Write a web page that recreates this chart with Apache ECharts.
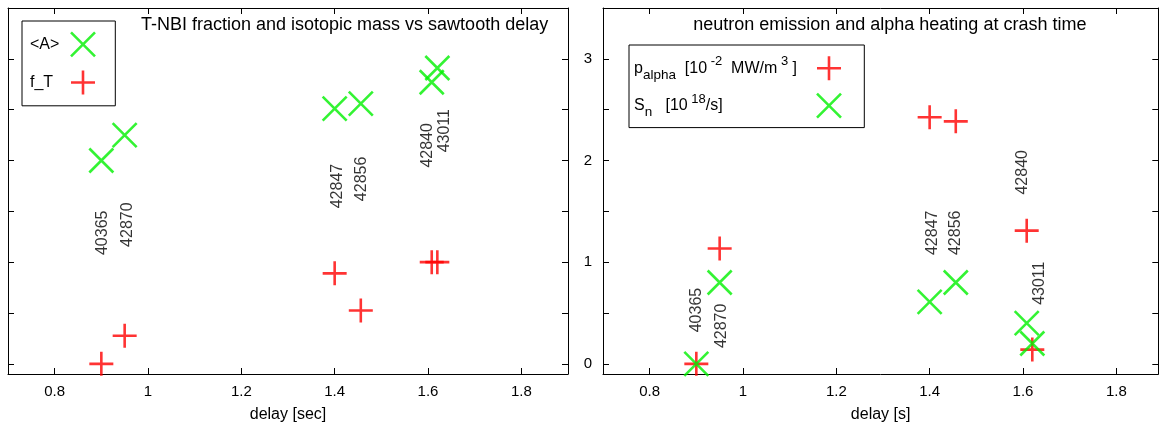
<!DOCTYPE html>
<html><head><meta charset="utf-8">
<script src="https://cdn.jsdelivr.net/npm/echarts@6/dist/echarts.min.js"></script>
<style>html,body{margin:0;padding:0;background:#fff}#c{width:1160px;height:428px}</style>
</head><body><div id="c"></div>
<script>
// ---- data ----
const shots = ['40365', '42870', '42847', '42856', '42840', '43011'];
const delay = [0.9, 0.95, 1.4, 1.456, 1.608, 1.62];
const massA = [2.0, 2.25, 2.51, 2.56, 2.77, 2.91];
const fracT = [0.0, 0.276, 0.89, 0.525, 1.0, 1.0];
const pAlpha = [0.0, 1.135, 2.425, 2.385, 1.31, 0.14];
const sNeutron = [0.0, 0.80, 0.61, 0.80, 0.40, 0.20];
// shot-number labels: data coordinates of the start (bottom) of each rotated label
const leftLabelX = [0.902, 0.957, 1.406, 1.457, 1.600, 1.636];
const leftLabelY = [1.07, 1.15, 1.53, 1.60, 1.93, 2.08];
const rightLabelX = [0.901, 0.955, 1.407, 1.455, 1.599, 1.635];
const rightLabelY = [0.31, 0.155, 1.07, 1.07, 1.665, 0.58];
const xTicks = [0.8, 1, 1.2, 1.4, 1.6, 1.8];
const yTicks = [0, 0.5, 1, 1.5, 2, 2.5, 3];
const yLabels = [0, 1, 2, 3];
const titleLeft = 'T-NBI fraction and isotopic mass vs sawtooth delay';
const titleRight = 'neutron emission and alpha heating at crash time';
const xNameLeft = 'delay [sec]';
const xNameRight = 'delay [s]';

// ---- styling ----
const FONT = 'Liberation Sans, Arial, sans-serif';
const RED = '#ff0000';
const GREEN = '#00f000';
const X_PATH = 'path://M0,0L10,10M10,0L0,10';
const PLUS_PATH = 'path://M5,0L5,10M0,5L10,5';

const chart = echarts.init(document.getElementById('c'), null, {renderer: 'canvas'});

function pairs(xs, ys) { return xs.map((x, i) => [x, ys[i]]); }
function labelData(xs, ys) { return xs.map((x, i) => ({name: shots[i], value: [x, ys[i]]})); }

const tickCommon = {show: true, inside: true, length: 6, lineStyle: {color: '#000', width: 1}};
function xAxisDef(grid, pos, max, showLabels, name) {
  return {
    type: 'value', gridIndex: grid, position: pos, min: 0.7, max: max,
    axisLine: {show: true, onZero: false, lineStyle: {color: '#000', width: 1}},
    axisTick: Object.assign({}, tickCommon, {customValues: xTicks}),
    axisLabel: {show: showLabels, customValues: xTicks, color: '#000', fontSize: 15, fontFamily: FONT, margin: 10},
    splitLine: {show: false},
    name: name || '', nameLocation: 'middle', nameGap: 33,
    nameTextStyle: {color: '#000', fontSize: 16, fontFamily: FONT}
  };
}
function yAxisDef(grid, pos, showLabels) {
  return {
    type: 'value', gridIndex: grid, position: pos, min: -0.1, max: 3.5,
    axisLine: {show: true, onZero: false, lineStyle: {color: '#000', width: 1}},
    axisTick: Object.assign({}, tickCommon, {customValues: yTicks}),
    axisLabel: {show: showLabels, customValues: yLabels, color: '#000', fontSize: 15, fontFamily: FONT, margin: 11},
    splitLine: {show: false}
  };
}
function markerSeries(name, xi, yi, sym, color, data) {
  return {
    type: 'scatter', name: name, xAxisIndex: xi, yAxisIndex: yi,
    symbol: sym, symbolSize: 24, data: data, silent: true,
    itemStyle: {color: color, borderColor: color, borderWidth: 2.6},
    emphasis: {disabled: true}
  };
}
function labelSeries(xi, yi, data) {
  return {
    type: 'scatter', xAxisIndex: xi, yAxisIndex: yi, symbolSize: 1, silent: true,
    itemStyle: {color: 'rgba(0,0,0,0)'}, data: data, z: 5,
    label: {show: true, formatter: '{b}', position: 'inside', align: 'left', verticalAlign: 'middle',
            rotate: 90, color: '#000', fontSize: 16, fontFamily: FONT},
    emphasis: {disabled: true}
  };
}

const legendText = {color: '#000', fontSize: 16, fontFamily: FONT};
const option = {
  animation: false,
  backgroundColor: '#fff',
  grid: [
    {left: 8, top: 8, width: 560, height: 366},
    {left: 603, top: 8, width: 555.3, height: 366}
  ],
  xAxis: [
    xAxisDef(0, 'bottom', 1.9, true, xNameLeft),
    xAxisDef(0, 'top', 1.9, false),
    xAxisDef(1, 'bottom', 1.89, true, xNameRight),
    xAxisDef(1, 'top', 1.89, false)
  ],
  yAxis: [
    yAxisDef(0, 'left', false),
    yAxisDef(0, 'right', false),
    yAxisDef(1, 'left', true),
    yAxisDef(1, 'right', false)
  ],
  legend: [
    {
      data: [{name: '<A>', icon: X_PATH}, {name: 'f_T', icon: PLUS_PATH}],
      orient: 'vertical', align: 'right', left: 22, top: 21,
      itemWidth: 24, itemHeight: 24, itemGap: 11.6,
      padding: [10, 19, 10, 8],
      borderColor: '#000', borderWidth: 1,
      selectedMode: false,
      itemStyle: {borderWidth: 2.6},
      formatter: '{m|{name}}',
      textStyle: Object.assign({}, legendText, {width: 36, overflow: 'none',
        rich: {m: Object.assign({align: 'left'}, legendText)}})
    },
    {
      data: [{name: 'p_alpha', icon: PLUS_PATH}, {name: 'S_n', icon: X_PATH}],
      orient: 'vertical', align: 'right', left: 629, top: 45,
      itemWidth: 24, itemHeight: 24, itemGap: 10,
      padding: [10, 22, 8, 5],
      borderColor: '#000', borderWidth: 1,
      selectedMode: false,
      itemStyle: {borderWidth: 2.6},
      formatter: function (name) {
        if (name === 'p_alpha') return '{m|p}{sub|alpha}{m|  [10}{sup| -2}{m|  MW/m}{sup| 3}{m| ]}';
        return '{m|S}{sub|n}{m|   [10}{sup| 18}{m|/s]}';
      },
      textStyle: Object.assign({}, legendText, {width: 178, overflow: 'none',
        rich: {
          m: Object.assign({align: 'left', lineHeight: 28}, legendText),
          sub: {align: 'left', fontSize: 13.5, fontFamily: FONT, color: '#000', verticalAlign: 'bottom'},
          sup: {align: 'left', fontSize: 13, fontFamily: FONT, color: '#000', verticalAlign: 'top', padding: [1, 0, 0, 0]}
        }})
    }
  ],
  graphic: [
    {type: 'text', x: 344.6, y: 25, silent: true,
     style: {text: titleLeft, align: 'center', verticalAlign: 'middle', fill: '#000', font: '18px ' + FONT}},
    {type: 'text', x: 889.8, y: 25, silent: true,
     style: {text: titleRight, align: 'center', verticalAlign: 'middle', fill: '#000', font: '18px ' + FONT}}
  ],
  series: [
    markerSeries('<A>', 0, 0, X_PATH, GREEN, pairs(delay, massA)),
    markerSeries('f_T', 0, 0, PLUS_PATH, RED, pairs(delay, fracT)),
    labelSeries(0, 0, labelData(leftLabelX, leftLabelY)),
    markerSeries('p_alpha', 2, 2, PLUS_PATH, RED, pairs(delay, pAlpha)),
    markerSeries('S_n', 2, 2, X_PATH, GREEN, pairs(delay, sNeutron)),
    labelSeries(2, 2, labelData(rightLabelX, rightLabelY))
  ]
};
chart.setOption(option);
</script>
</body></html>
